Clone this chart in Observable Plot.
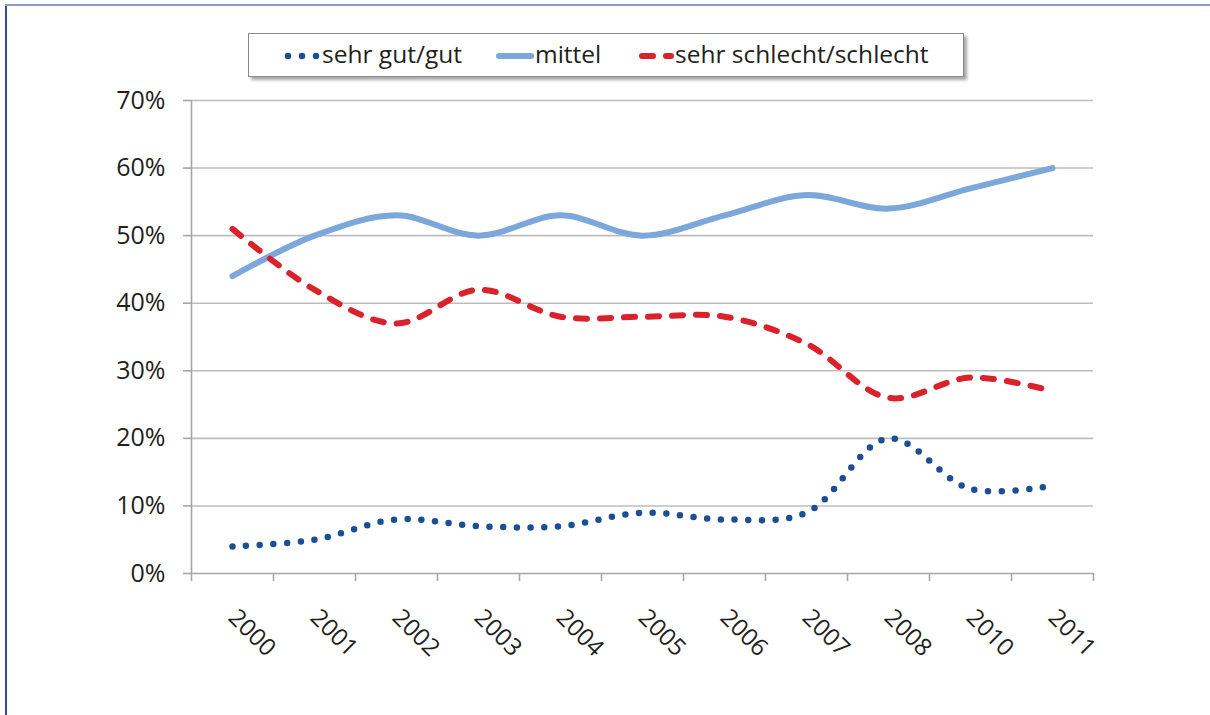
<!DOCTYPE html>
<html>
<head>
<meta charset="utf-8">
<script src="https://cdn.jsdelivr.net/npm/d3@7"></script>
<script src="https://cdn.jsdelivr.net/npm/@observablehq/plot@0.6"></script>
<style>
  html, body { margin: 0; padding: 0; background: #fff; }
  #wrap { position: relative; width: 1210px; height: 715px; overflow: hidden; font-family: "Open Sans", "Noto Sans", sans-serif; color: #231f20; }
  #chart { position: absolute; left: 0; top: 0; }
  .frameL { position: absolute; left: 5px; top: 4px; width: 2px; height: 720px; background: #2e4a9c; }
  .frameT { position: absolute; left: 5px; top: 4px; width: 1210px; height: 1.5px; background: #8e9bc8; }
  #legend { position: absolute; left: 248px; top: 33px; width: 714px; height: 42px; border: 1.5px solid #8a8a8a; background: #fff; box-shadow: 3px 3px 3px rgba(0,0,0,0.35); }
  #legend .lab { position: absolute; top: 4px; font-size: 24.5px; line-height: 32px; white-space: nowrap; }
  #legend svg { position: absolute; left: 0; top: 0; }
</style>
</head>
<body>
<div id="wrap">
  <div class="frameL"></div>
  <div class="frameT"></div>
  <div id="chart"></div>
  <div id="legend"></div>
</div>
<script>
// ---- data ----
const years = ["2000","2001","2002","2003","2004","2005","2006","2007","2008","2010","2011"];
const gut      = [0.04, 0.05, 0.08, 0.07, 0.07, 0.09, 0.08, 0.09, 0.20, 0.125, 0.13];
const mittel   = [0.44, 0.50, 0.53, 0.50, 0.53, 0.50, 0.53, 0.56, 0.54, 0.57, 0.60];
const schlecht = [0.51, 0.42, 0.37, 0.42, 0.38, 0.38, 0.38, 0.34, 0.26, 0.29, 0.27];
const seriesNames = ["sehr gut/gut", "mittel", "sehr schlecht/schlecht"];
const yTicks = [0, 0.1, 0.2, 0.3, 0.4, 0.5, 0.6, 0.7];

const colors = {gut: "#1b4f95", mittel: "#7ba7da", schlecht: "#da222c"};

const bounds = d3.range(years.length + 1).map(i => i - 0.5);
const rows = (vals) => vals.map((v, i) => ({i, year: years[i], v}));

const chart = Plot.plot({
  width: 1210,
  height: 715,
  marginLeft: 191,
  marginRight: 117,
  marginTop: 100,
  marginBottom: 142,
  style: {fontFamily: "'Open Sans', 'Noto Sans', sans-serif", background: "transparent", color: "#231f20"},
  x: {type: "linear", domain: [-0.5, years.length - 0.5], axis: null},
  y: {domain: [0, 0.7], axis: null},
  marks: [
    Plot.ruleY(yTicks.filter(d => d > 0), {x1: -0.5, x2: years.length - 0.5, stroke: "#bdbdbd", strokeWidth: 1.6}),
    Plot.axisY(yTicks, {label: null, tickSize: 8, tickPadding: 18, tickFormat: d => Math.round(d * 100) + "%", fontSize: 25, stroke: "#a6a6a6", strokeWidth: 1.6, fill: "#231f20"}),
    Plot.ruleY([0], {x1: -0.5, x2: years.length - 0.5, stroke: "#a6a6a6", strokeWidth: 1.6}),
    Plot.axisX(bounds, {label: null, tickSize: 8, tickFormat: () => "", stroke: "#a6a6a6", strokeWidth: 1.6}),
    Plot.ruleX([-0.5], {y1: 0, y2: 0.7, stroke: "#a6a6a6", strokeWidth: 1.6}),
    Plot.text(years, {x: (d, i) => i, frameAnchor: "bottom", dy: 40, rotate: 45, textAnchor: "start", lineAnchor: "middle", fontSize: 24, fill: "#231f20"}),
    Plot.line(rows(gut), {x: "i", y: "v", stroke: colors.gut, strokeWidth: 6.5, strokeDasharray: "0 13.7", strokeLinecap: "round", curve: "catmull-rom"}),
    Plot.line(rows(mittel), {x: "i", y: "v", stroke: colors.mittel, strokeWidth: 6, strokeLinecap: "round", curve: "catmull-rom"}),
    Plot.line(rows(schlecht), {x: "i", y: "v", stroke: colors.schlecht, strokeWidth: 6, strokeDasharray: "11 13", strokeLinecap: "round", curve: "catmull-rom"})
  ]
});
document.getElementById("chart").appendChild(chart);

// ---- legend ----
const legend = document.getElementById("legend");
const ns = "http://www.w3.org/2000/svg";
const lsvg = document.createElementNS(ns, "svg");
lsvg.setAttribute("width", 714); lsvg.setAttribute("height", 42);
const mk = (x1, x2, color, dash, w) => {
  const l = document.createElementNS(ns, "line");
  l.setAttribute("x1", x1); l.setAttribute("x2", x2);
  l.setAttribute("y1", 22); l.setAttribute("y2", 22);
  l.setAttribute("stroke", color); l.setAttribute("stroke-width", w);
  l.setAttribute("stroke-linecap", "round");
  if (dash) l.setAttribute("stroke-dasharray", dash);
  lsvg.appendChild(l);
};
mk(39, 70, colors.gut, "0 14", 6.5);
mk(250, 282, colors.mittel, null, 6);
mk(393, 422, colors.schlecht, "11 13", 6);
legend.appendChild(lsvg);
const labPos = [73, 286, 426];
seriesNames.forEach((name, k) => {
  const s = document.createElement("div");
  s.className = "lab";
  s.style.left = labPos[k] + "px";
  s.textContent = name;
  legend.appendChild(s);
});
</script>
</body>
</html>
